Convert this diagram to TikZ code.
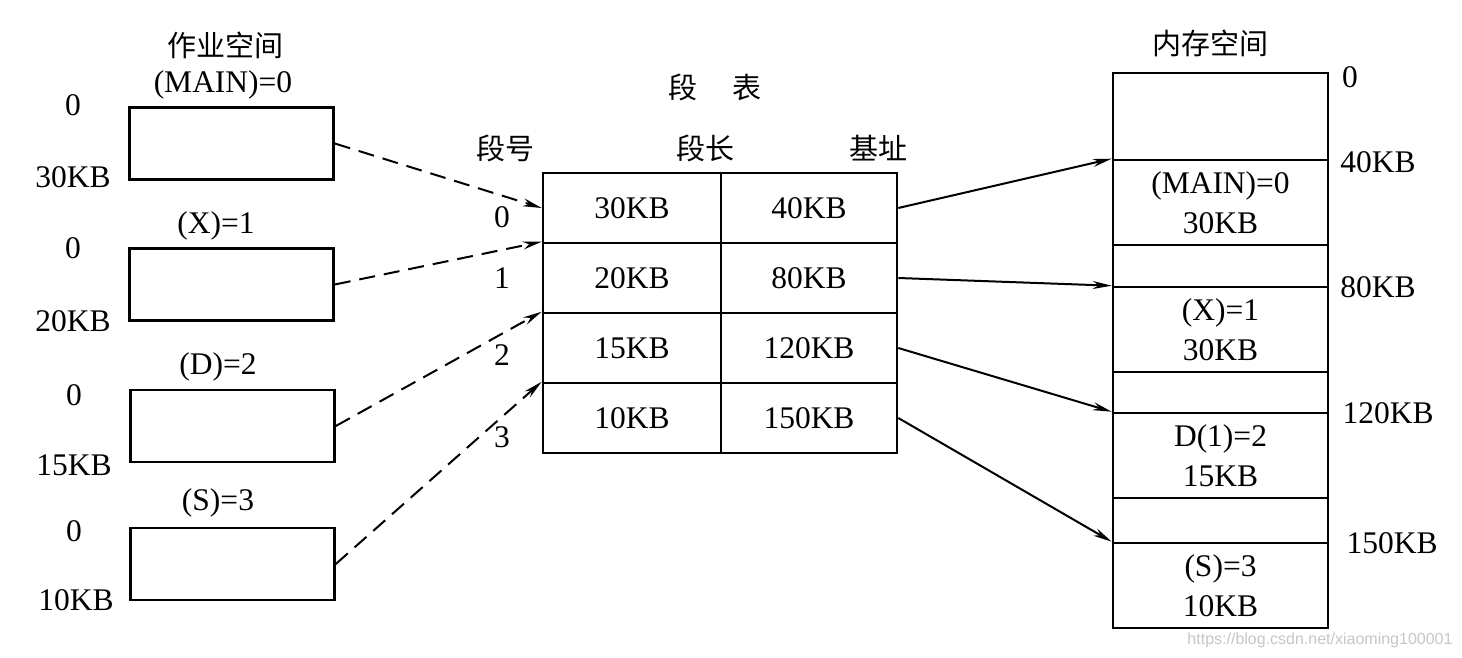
\documentclass[tikz,border=0pt]{standalone}
\usepackage{fontspec}
\setmainfont{Liberation Serif}
\newfontfamily\cjk{Noto Sans CJK SC}
\newfontfamily\wmfont{Liberation Sans}
\usetikzlibrary{arrows.meta}
\begin{document}
\begin{tikzpicture}[x=1pt,y=-1pt,
  txt/.style={font=\fontsize{31.5}{40}\selectfont, inner sep=0pt, align=center},
  ztxt/.style={font=\cjk\fontsize{29}{34}\selectfont, inner sep=0pt},
  jobbox/.style={draw, line width=2.6pt, minimum width=204pt, minimum height=72pt, inner sep=0pt},
  cellA/.style={draw, line width=2.6pt, minimum width=178pt, minimum height=70pt, inner sep=0pt, font=\fontsize{31.5}{40}\selectfont},
  cellB/.style={draw, line width=2.6pt, minimum width=176pt, minimum height=70pt, inner sep=0pt, font=\fontsize{31.5}{40}\selectfont},
  memseg/.style={draw, line width=2.6pt, minimum width=215pt, inner sep=0pt, align=center, font=\fontsize{31.5}{40}\selectfont},
  dasharrow/.style={line width=2pt, dash pattern=on 16pt off 9pt, -{Stealth[length=19pt,width=8pt]}},
  solidarrow/.style={line width=2pt, -{Stealth[length=19pt,width=8pt]}}
]
\useasboundingbox (0,0) rectangle (1462,658);
\fill[white] (0,0) rectangle (1462,658);

% job space
\node[ztxt] (jobtitle) at (225,45) {作业空间};
\node[jobbox] (b1) at (231.5,143.5) {};
\node[jobbox] (b2) at (231.5,284.5) {};
\node[jobbox] (b3) at (232.5,426) {};
\node[jobbox] (b4) at (232.5,564) {};
\node[txt] (n1) at (223,85) {(MAIN)=0};
\node[txt] (n2) at (216,226) {(X)=1};
\node[txt] (n3) at (218,367) {(D)=2};
\node[txt] (n4) at (218,503) {(S)=3};
\node[txt] (s1) at (73,105) {0};
\node[txt] (e1) at (73,177) {30KB};
\node[txt] (s2) at (73,248) {0};
\node[txt] (e2) at (73,321) {20KB};
\node[txt] (s3) at (74,395) {0};
\node[txt] (e3) at (74,465) {15KB};
\node[txt] (s4) at (74,531) {0};
\node[txt] (e4) at (76,600) {10KB};

% segment table
\node[ztxt] (ttitle) at (715,87) {段\hspace{35pt}表};
\node[ztxt] (h1) at (505,148) {段号};
\node[ztxt] (h2) at (705,148) {段长};
\node[ztxt] (h3) at (878,148) {基址};
\node[cellA] (c11) at (632,208) {30KB};
\node[cellB] (c12) at (809,208) {40KB};
\node[cellA] (c21) at (632,278) {20KB};
\node[cellB] (c22) at (809,278) {80KB};
\node[cellA] (c31) at (632,348) {15KB};
\node[cellB] (c32) at (809,348) {120KB};
\node[cellA] (c41) at (632,418) {10KB};
\node[cellB] (c42) at (809,418) {150KB};
\node[txt] (r0) at (502,217) {0};
\node[txt] (r1) at (502,278) {1};
\node[txt] (r2) at (502,355) {2};
\node[txt] (r3) at (502,437) {3};

% memory space
\node[ztxt] (mtitle) at (1210,43) {内存空间};
\node[memseg, minimum height=87pt] (m0) at (1220.5,116.5) {};
\node[memseg, minimum height=85pt] (m1) at (1220.5,202.5) {(MAIN)=0\\30KB};
\node[memseg, minimum height=42pt] (m2) at (1220.5,266) {};
\node[memseg, minimum height=85pt] (m3) at (1220.5,329.5) {(X)=1\\30KB};
\node[memseg, minimum height=41pt] (m4) at (1220.5,392.5) {};
\node[memseg, minimum height=85pt] (m5) at (1220.5,455.5) {D(1)=2\\15KB};
\node[memseg, minimum height=45pt] (m6) at (1220.5,520.5) {};
\node[memseg, minimum height=85pt] (m7) at (1220.5,585.5) {(S)=3\\10KB};
\node[txt] (a0) at (1350,77) {0};
\node[txt] (a1) at (1378,162) {40KB};
\node[txt] (a2) at (1378,287) {80KB};
\node[txt] (a3) at (1388,413) {120KB};
\node[txt] (a4) at (1392,543) {150KB};

% connectors
\draw[dasharrow] (b1.east) -- (c11.west);
\draw[dasharrow] (b2.east) -- (c21.north west);
\draw[dasharrow] (b3.east) -- (c31.north west);
\draw[dasharrow] (b4.east) -- (c41.north west);
\draw[solidarrow] (c12.east) -- (m1.north west);
\draw[solidarrow] (c22.east) -- (m3.north west);
\draw[solidarrow] (c32.east) -- (m5.north west);
\draw[solidarrow] (c42.east) -- (m7.north west);

% watermark
\node[font=\wmfont\fontsize{16}{20}\selectfont, text=black!22, inner sep=0pt] (wm) at (1320,640) {https://blog.csdn.net/xiaoming100001};
\end{tikzpicture}
\end{document}
